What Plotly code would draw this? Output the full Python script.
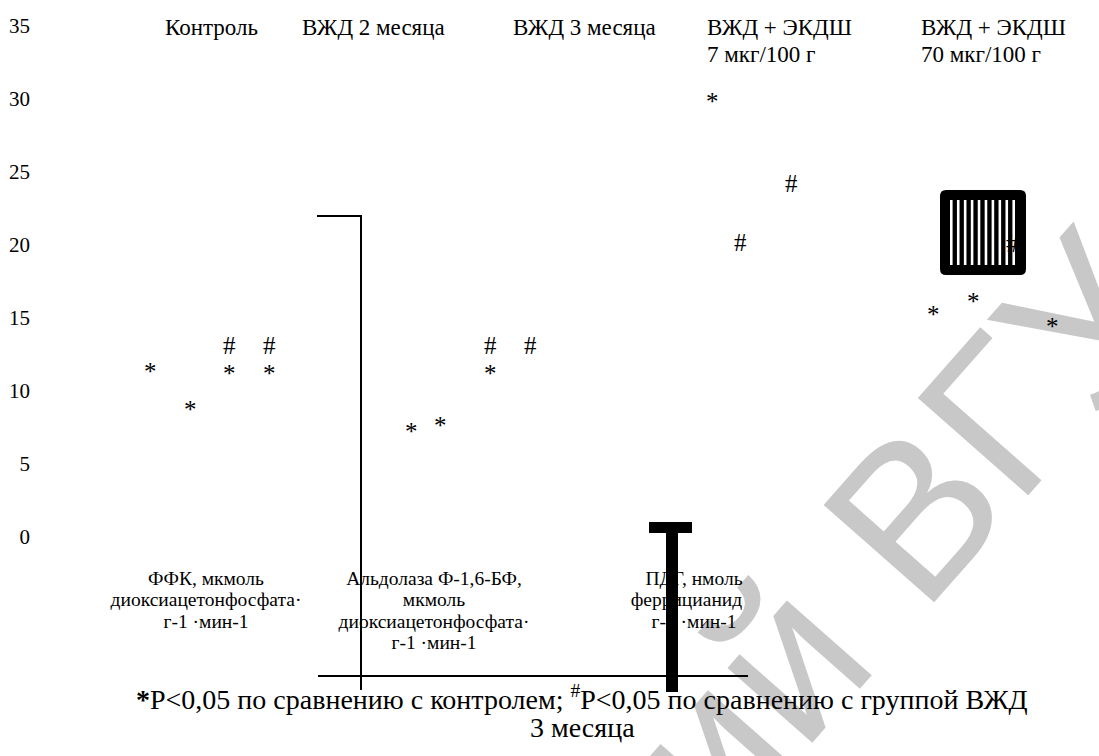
import plotly.graph_objects as go

# ---------------- data ----------------
series_names = ["Контроль", "ВЖД 2 месяца", "ВЖД 3 месяца",
                "ВЖД + ЭКДШ<br>7 мкг/100 г", "ВЖД + ЭКДШ<br>70 мкг/100 г"]
category_lines = [
    ["ФФК, мкмоль", "диоксиацетонфосфата·", "г-1 ·мин-1"],
    ["Альдолаза Ф-1,6-БФ,", "мкмоль", "диоксиацетонфосфата·", "г-1 ·мин-1"],
    ["ПДГ, нмоль", "феррицианида·", "г-1 ·мин-1"],
]
y_tick_values = [0, 5, 10, 15, 20, 25, 30, 35]

# significance marks: category group, series index, symbol, value
mark_group = [0, 0, 0, 0, 0, 0,
              1, 1, 1, 1, 1,
              2, 2, 2,
              3, 3, 3, 3]
mark_series = [1, 2, 3, 3, 4, 4,
               1, 2, 3, 3, 4,
               2, 3, 4,
               1, 2, 3, 4]
mark_symbol = ["*", "*", "#", "*", "#", "*",
               "*", "*", "#", "*", "#",
               "*", "#", "#",
               "*", "*", "#", "*"]
mark_value = [11.6, 9.0, 13.1, 11.5, 13.1, 11.5,
              7.5, 7.9, 13.1, 11.5, 13.1,
              30.1, 20.2, 24.2,
              15.5, 16.4, 20.1, 14.7]

footnote_line1 = ("<b>*</b>P&lt;0,05 по сравнению с контролем; "
                  "<sup>#</sup>P&lt;0,05 по сравнению с группой ВЖД")
footnote_line2 = "3 месяца"
watermark_words = ["Репозиторий", "ВГУ"]

# ---------------- layout constants ----------------
W, H = 1099, 756
ML = 40                    # left margin (room for tick labels)
PX_PER_Y = 14.6            # pixels per value unit
Y0_PX = 537                # pixel row of value 0
PX_PER_GROUP = 261
GROUP0_PX = 190
SLOT = 39.5 / PX_PER_GROUP
SERIF = "Liberation Serif"
LABEL_CENTER_PX = [206, 434, 694]


def px_to_x(px):
    return (px - GROUP0_PX) / PX_PER_GROUP


def py_to_y(py):
    return (Y0_PX - py) / PX_PER_Y


def xp(px):   # pixel -> paper x
    return (px - ML) / (W - ML)


def yp(py):   # pixel -> paper y
    return 1 - py / H


x_range = [px_to_x(ML), px_to_x(W)]
y_range = [py_to_y(H), py_to_y(0)]

fig = go.Figure()

# ---- category labels (clipped at the right like in the source) ----
CLIP_PX = 743
label_x, label_y, label_t = [], [], []
for g, lines in enumerate(category_lines):
    cx = px_to_x(LABEL_CENTER_PX[g])
    for i, t in enumerate(lines):
        label_x.append(cx)
        label_y.append(py_to_y(580 + 21.5 * i))
        label_t.append(t)
fig.add_trace(go.Scatter(
    x=label_x, y=label_y, text=label_t, mode="text",
    textposition="middle center", cliponaxis=True,
    textfont=dict(family=SERIF, size=19.5, color="black"),
    xaxis="x2", yaxis="y2", hoverinfo="skip", showlegend=False))

# ---- invisible trace to hold the main axes ----
fig.add_trace(go.Scatter(x=[px_to_x(300)], y=[0], mode="markers",
                         marker=dict(opacity=0), hoverinfo="skip",
                         showlegend=False))

shapes = []
annotations = []

# ---- watermark (below everything) ----
wm_centers = [(389, 1080), (982, 405)]
for word, (cx, cy) in zip(watermark_words, wm_centers):
    shapes.append(dict(
        type="rect", xref="paper", yref="paper", layer="below",
        x0=xp(cx - 1), x1=xp(cx + 1), y0=yp(cy + 1), y1=yp(cy - 1),
        line=dict(width=0), fillcolor="rgba(0,0,0,0)",
        label=dict(text=word, textangle=-48.6, textposition="middle center",
                   font=dict(family="Liberation Sans", size=214,
                             color="#c8c8c8"))))

# ---- frame remnants ----
line_col = "black"
shapes.append(dict(type="path", xref="paper", yref="paper",
                   path=f"M {xp(317)},{yp(216)} L {xp(361)},{yp(216)} L {xp(361)},{yp(690)}",
                   line=dict(color=line_col, width=2)))
shapes.append(dict(type="line", xref="paper", yref="paper",
                   x0=xp(318), x1=xp(748), y0=yp(676), y1=yp(676),
                   line=dict(color=line_col, width=2)))
shapes.append(dict(type="rect", xref="paper", yref="paper",
                   x0=xp(649), x1=xp(692), y0=yp(533), y1=yp(522),
                   line=dict(width=0), fillcolor=line_col))
shapes.append(dict(type="rect", xref="paper", yref="paper",
                   x0=xp(666), x1=xp(678), y0=yp(692), y1=yp(522),
                   line=dict(width=0), fillcolor=line_col))


def rounded_rect(x0, y0, x1, y1, r):
    p = [f"M {xp(x0 + r)},{yp(y0)}",
         f"L {xp(x1 - r)},{yp(y0)}", f"Q {xp(x1)},{yp(y0)} {xp(x1)},{yp(y0 + r)}",
         f"L {xp(x1)},{yp(y1 - r)}", f"Q {xp(x1)},{yp(y1)} {xp(x1 - r)},{yp(y1)}",
         f"L {xp(x0 + r)},{yp(y1)}", f"Q {xp(x0)},{yp(y1)} {xp(x0)},{yp(y1 - r)}",
         f"L {xp(x0)},{yp(y0 + r)}", f"Q {xp(x0)},{yp(y0)} {xp(x0 + r)},{yp(y0)}", "Z"]
    return " ".join(p)


# striped swatch box
shapes.append(dict(type="path", xref="paper", yref="paper",
                   path=rounded_rect(940, 190, 1026, 275, 6),
                   line=dict(width=0), fillcolor="black"))
n_stripes, stripe_w = 10, 2.6
period = (1015 - 950 - stripe_w) / (n_stripes - 1)
for i in range(n_stripes):
    sx = 950 + i * period
    shapes.append(dict(type="rect", xref="paper", yref="paper",
                       x0=xp(sx), x1=xp(sx + stripe_w), y0=yp(265), y1=yp(200),
                       line=dict(width=0), fillcolor="white"))

# ---- series names along the top ----
series_left_px = [163, 300, 511, 705, 919]
for name, lx in zip(series_names, series_left_px):
    for i, part in enumerate(name.split("<br>")):
        annotations.append(dict(
            x=px_to_x(lx), y=py_to_y(27 + 27 * i), xref="x", yref="y",
            text=part, showarrow=False, xanchor="left", yanchor="middle",
            font=dict(family=SERIF, size=23, color="black")))

# ---- significance marks ----
nudge_px = {7: -11, 12: -11}
for k, (g, s, sym, v) in enumerate(zip(mark_group, mark_series, mark_symbol, mark_value)):
    annotations.append(dict(
        x=g + (s - 2) * SLOT, y=v, xref="x", yref="y", text=sym,
        showarrow=False, xanchor="center", yanchor="middle",
        xshift=nudge_px.get(k, 0), yshift=-4 if sym == "*" else 0,
        font=dict(family=SERIF, size=25, color="black")))

# ---- footnote ----
annotations.append(dict(x=xp(582), y=yp(697), xref="paper", yref="paper",
                        text=footnote_line1, showarrow=False,
                        xanchor="center", yanchor="middle",
                        font=dict(family=SERIF, size=28, color="black")))
annotations.append(dict(x=xp(582), y=yp(727), xref="paper", yref="paper",
                        text=footnote_line2, showarrow=False,
                        xanchor="center", yanchor="middle",
                        font=dict(family=SERIF, size=28, color="black")))

fig.update_layout(
    width=W, height=H,
    margin=dict(l=ML, r=0, t=0, b=0),
    paper_bgcolor="white", plot_bgcolor="rgba(0,0,0,0)",
    showlegend=False,
    xaxis=dict(range=x_range, domain=[0, 1], showgrid=False, zeroline=False,
               showline=False, showticklabels=False, fixedrange=True),
    yaxis=dict(range=y_range, domain=[0, 1], showgrid=False, zeroline=False,
               showline=False, tickvals=y_tick_values, ticks="",
               ticklabelstandoff=9,
               tickfont=dict(family=SERIF, size=21, color="black"),
               fixedrange=True),
    xaxis2=dict(range=[px_to_x(ML), px_to_x(CLIP_PX)],
                domain=[0, xp(CLIP_PX)], anchor="y2", visible=False,
                fixedrange=True),
    yaxis2=dict(range=y_range, domain=[0, 1], anchor="x2", visible=False,
                fixedrange=True),
    shapes=shapes,
    annotations=annotations,
)

fig.write_html("out.html", config={"displayModeBar": False},
               post_script="document.body.style.margin='0px';")
